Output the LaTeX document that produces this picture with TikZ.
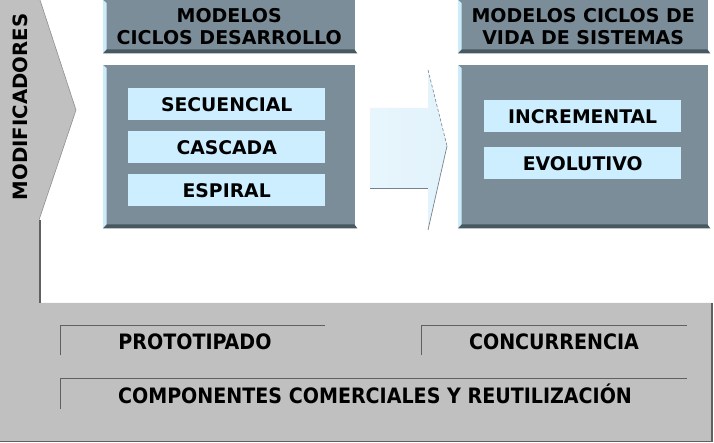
\documentclass[tikz,border=0pt]{standalone}
\usepackage{fontspec}
\setmainfont{DejaVu Sans}
\newfontfamily\condfont{DejaVu Sans Condensed}
\definecolor{panelgray}{RGB}{192,192,192}
\definecolor{edgegray}{RGB}{96,96,96}
\definecolor{slate}{RGB}{123,141,152}
\definecolor{slatedark}{RGB}{72,88,96}
\definecolor{slatelight}{RGB}{205,236,250}
\definecolor{cellblue}{RGB}{204,238,255}
\definecolor{arrowblue}{RGB}{226,243,252}
\definecolor{arrowedge}{RGB}{120,130,140}
\tikzset{
  slatebox/.style={fill=slate, inner sep=0pt, anchor=north west, align=center,
    font=\fontsize{19}{22.5}\selectfont\bfseries},
  cellbox/.style={fill=cellblue, inner sep=0pt, minimum width=197pt, minimum height=32pt,
    anchor=north west, font=\fontsize{18.8}{22}\selectfont\bfseries},
  bottomtext/.style={font=\condfont\fontsize{21.2}{24}\selectfont\bfseries},
  rulebox/.style={draw=edgegray, line width=1pt},
}
\newcommand\bevelit[1]{%
  \fill[slatelight] (#1.north west) -- ([xshift=3.5pt,yshift=-3pt]#1.north west) -- ([xshift=3.5pt,yshift=4pt]#1.south west) -- (#1.south west) -- cycle;
  \fill[slatedark] (#1.south west) -- ([xshift=4pt,yshift=4pt]#1.south west) -- ([xshift=-1pt,yshift=4pt]#1.south east) -- ([xshift=2pt]#1.south east) -- cycle;}
\begin{document}
\begin{tikzpicture}[x=1pt,y=-1pt]
\useasboundingbox (0,0) rectangle (714,443);
\fill[white] (0,0) rectangle (714,443);
% modifiers panel
\fill[panelgray] (0,0) -- (40,0) -- (76,110) -- (39,220) -- (39,303) -- (712,303) -- (712,441) -- (0,441) -- cycle;
\draw[edgegray!70, line width=0.6pt] (40,0) -- (76,110) -- (39,220);
\draw[edgegray, line width=2pt] (40,220) -- (40,303);
\draw[edgegray, line width=1.5pt] (712,303) -- (712,441.5) -- (0,441.5);
\node[rotate=90, font=\fontsize{19.7}{22}\selectfont\bfseries] (mod) at (20,107) {MODIFICADORES};
% headers
\node[slatebox, minimum width=252pt, minimum height=53pt] (h1) at (103,0) {MODELOS\\CICLOS DESARROLLO};
\bevelit{h1}
\node[slatebox, minimum width=250pt, minimum height=53pt] (h2) at (458,0) {MODELOS CICLOS DE\\VIDA DE SISTEMAS};
\bevelit{h2}
% main boxes
\node[slatebox, minimum width=252pt, minimum height=163pt] (b1) at (103,65) {};
\bevelit{b1}
\node[slatebox, minimum width=250pt, minimum height=163pt] (b2) at (458,65) {};
\bevelit{b2}
\node[cellbox] (sec) at (128,88) {SECUENCIAL};
\node[cellbox] (cas) at (128,131) {CASCADA};
\node[cellbox] (esp) at (128,174) {ESPIRAL};
\node[cellbox] (inc) at (484,100) {INCREMENTAL};
\node[cellbox] (evo) at (484,147) {EVOLUTIVO};
% arrow
\shade[left color=arrowblue!80, right color=arrowblue] (370,108) -- (428,108) -- (428,70) -- (447,146) -- (428,230) -- (428,188) -- (370,188) -- cycle;
\draw[arrowedge, densely dashed, line width=0.6pt] (428,70) -- (447,146);
\draw[arrowedge, line width=0.7pt] (447,146) -- (428,230);
\draw[arrowedge, line width=0.7pt] (370,188) -- (428,188);
% bottom items
\draw[rulebox] (60,355) -- (60,325) -- (325,325);
\draw[rulebox] (421,355) -- (421,325) -- (687,325);
\draw[rulebox] (60,409) -- (60,378) -- (687,378);
\node[bottomtext] (pro) at (195,342) {PROTOTIPADO};
\node[bottomtext] (con) at (554,342) {CONCURRENCIA};
\node[bottomtext] (com) at (375,394) {COMPONENTES COMERCIALES Y REUTILIZACIÓN};
\end{tikzpicture}
\end{document}
